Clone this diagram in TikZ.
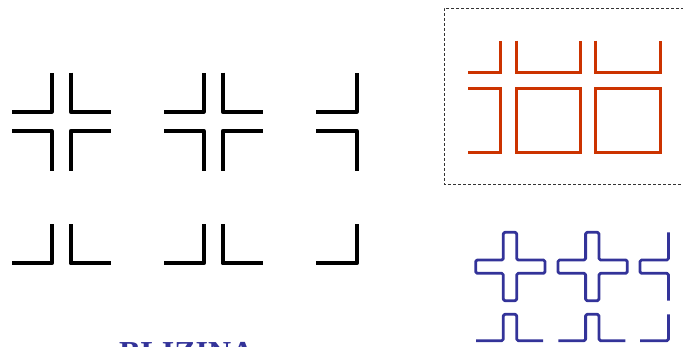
\documentclass[tikz,border=0pt]{standalone}
\usepackage{fontspec}
\setmainfont{Liberation Serif}
\definecolor{redline}{HTML}{CC3300}
\definecolor{blueline}{HTML}{333399}
\begin{document}
\begin{tikzpicture}[x=1pt,y=-1pt,
  blk/.style={line width=4pt,black,line join=round,line cap=butt},
  rd/.style={line width=3pt,redline,line join=miter},
  bl/.style={line width=2.8pt,blueline,line join=round,rounded corners=1.5pt}]
\useasboundingbox (0,0) rectangle (683,346);
% black crosses
\foreach \dx in {0,152}{
  \draw[blk] (12.3+\dx,111.7) -- (51.7+\dx,111.7) -- (51.7+\dx,72.7);
  \draw[blk] (70.7+\dx,72.7) -- (70.7+\dx,111.7) -- (110.7+\dx,111.7);
  \draw[blk] (12.3+\dx,131) -- (51.7+\dx,131) -- (51.7+\dx,170.7);
  \draw[blk] (70.7+\dx,170.7) -- (70.7+\dx,131) -- (110.7+\dx,131);
  \draw[blk] (12.3+\dx,263.3) -- (51.7+\dx,263.3) -- (51.7+\dx,224);
  \draw[blk] (70.7+\dx,224) -- (70.7+\dx,263.3) -- (110.7+\dx,263.3);
}
\draw[blk] (316,111.7) -- (356.7,111.7) -- (356.7,72.7);
\draw[blk] (316,131) -- (356.7,131) -- (356.7,170.7);
\draw[blk] (316,263.3) -- (356.7,263.3) -- (356.7,224);
% dashed frame
\draw[black!80,line width=0.8pt,dash pattern=on 3pt off 2pt] (684,8.3) -- (444,8.3) -- (444,184) -- (684,184);
% red shapes
\draw[rd] (468.3,72) -- (500,72) -- (500,40.7);
\draw[rd] (468.3,88.3) -- (500,88.3) -- (500,152.3) -- (468.3,152.3);
\foreach \a/\b in {516/580,595.7/660}{
  \draw[rd] (\a,40.7) -- (\a,72) -- (\b,72) -- (\b,40.7);
  \draw[rd] (\a,88.3) rectangle (\b,152.3);
}
% blue crosses
\foreach \dx in {0,82.3}{
  \draw[bl] (503.3+\dx,232.3) -- (516.7+\dx,232.3) -- (516.7+\dx,260) -- (545+\dx,260)
    -- (545+\dx,273.3) -- (516.7+\dx,273.3) -- (516.7+\dx,300.7) -- (503.3+\dx,300.7)
    -- (503.3+\dx,273.3) -- (475.7+\dx,273.3) -- (475.7+\dx,260) -- (503.3+\dx,260) -- cycle;
  \draw[bl] (476+\dx,340.7) -- (503.3+\dx,340.7) -- (503.3+\dx,314.3) -- (516.7+\dx,314.3)
    -- (516.7+\dx,340.7) -- (543+\dx,340.7);
}
\draw[bl] (668.5,232.3) -- (668.5,260) -- (640,260) -- (640,273.3) -- (668.5,273.3) -- (668.5,300.7);
\draw[bl] (640,340.7) -- (668.5,340.7) -- (668.5,314.3);
% text
\node[anchor=north west,inner sep=0pt,text=blueline,font=\fontsize{32}{32}\selectfont\bfseries] (blizina) at (119,342) {BLIZINA};
\end{tikzpicture}
\end{document}
